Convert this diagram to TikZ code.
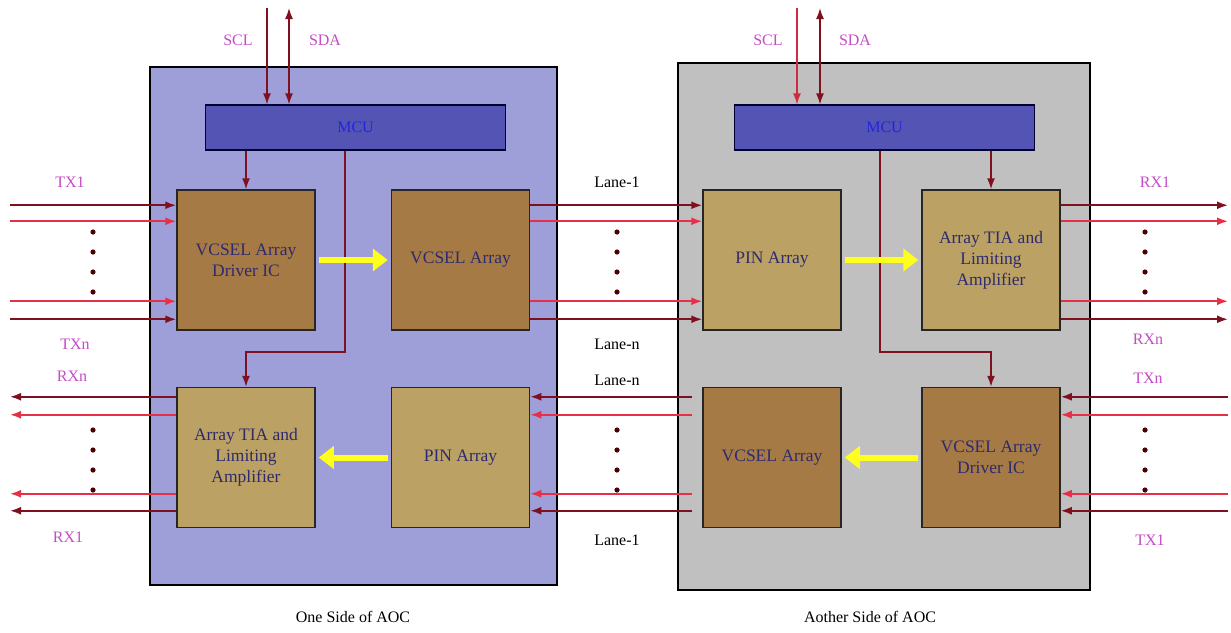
\documentclass[tikz,border=0pt]{standalone}
\usepackage{fontspec}
\setmainfont{Liberation Serif}
\usepackage{tikz}
\usetikzlibrary{positioning,arrows.meta,calc}
\usepackage{xcolor}
\definecolor{sideblue}{HTML}{9E9ED8}
\definecolor{sidegray}{HTML}{C0C0C0}
\definecolor{mcublue}{HTML}{5454B4}
\definecolor{mcutext}{HTML}{2424E0}
\definecolor{darkbrown}{HTML}{A57A45}
\definecolor{lighttan}{HTML}{BBA163}
\definecolor{blocktext}{HTML}{2E2A6E}
\definecolor{sigmaroon}{HTML}{7E1020}
\definecolor{lanered}{HTML}{E63048}
\definecolor{pinklabel}{HTML}{C44CC4}
\definecolor{optyellow}{HTML}{FFFF1E}

\begin{document}
\begin{tikzpicture}[x=1pt, y=-1pt,
    sideBox/.style={rectangle, draw=black, line width=2.5pt, inner sep=0pt},
    mcuBox/.style={rectangle, draw=black!80!blue, fill=mcublue, line width=1.2pt, minimum width=300pt, minimum height=45pt, text=mcutext, font=\fontsize{16}{18}\selectfont},
    arrBlock/.style={rectangle, draw=black!85, line width=1.5pt, minimum width=138pt, minimum height=140pt, align=center, text=blocktext, font=\fontsize{17.5}{21}\selectfont},
    sigLabel/.style={text=pinklabel, font=\fontsize{16}{18}\selectfont},
    laneLabel/.style={text=black, font=\fontsize{16}{18}\selectfont},
    sigLine/.style={line width=1.8pt, -{Latex[length=11pt,width=8pt]}},
    ctlLine/.style={draw=sigmaroon, line width=1.5pt, -{Latex[length=11pt,width=8pt]}},
    lightArrow/.style={draw=optyellow, line width=6pt, -{Triangle[length=15pt,width=22pt]}, shorten <=3pt, shorten >=3pt}
]
    \useasboundingbox (0,0) rectangle (1231,632);

    \node[sideBox, fill=sideblue, minimum width=407pt, minimum height=518pt] (sideA) at (353.5,326) {};
    \node[sideBox, fill=sidegray, minimum width=412pt, minimum height=527pt] (sideB) at (884,326.5) {};

    \node[mcuBox] (mcuA) at (355.5,127.5) {MCU};
    \node[mcuBox] (mcuB) at (884.5,127.5) {MCU};

    \node[arrBlock, fill=darkbrown] (drvA) at (246,260) {VCSEL Array\\Driver IC};
    \node[arrBlock, fill=darkbrown] (vcselA) at (460.5,260) {VCSEL Array};
    \node[arrBlock, fill=lighttan] (tiaA) at (246,457.5) {Array TIA and\\Limiting\\Amplifier};
    \node[arrBlock, fill=lighttan] (pinA) at (460.5,457.5) {PIN Array};

    \node[arrBlock, fill=lighttan] (pinB) at (772,260) {PIN Array};
    \node[arrBlock, fill=lighttan] (tiaB) at (991,260) {Array TIA and\\Limiting\\Amplifier};
    \node[arrBlock, fill=darkbrown] (vcselB) at (772,457.5) {VCSEL Array};
    \node[arrBlock, fill=darkbrown] (drvB) at (991,457.5) {VCSEL Array\\Driver IC};

    \coordinate (leftEnd) at (10,0);
    \coordinate (rightEnd) at (1228,0);

    \foreach \d/\c in {16/sigmaroon,32/lanered,112/lanered,130/sigmaroon}{
        \coordinate (p) at ([yshift=-\d pt]drvA.north west);
        \draw[sigLine, draw=\c] (p -| leftEnd) -- (p);
        \coordinate (q) at ([yshift=-\d pt]vcselA.north east);
        \draw[sigLine, draw=\c] (q) -- (q -| pinB.west);
        \coordinate (r) at ([yshift=-\d pt]tiaB.north east);
        \draw[sigLine, draw=\c] (r) -- (r -| rightEnd);
    }
    \foreach \d/\c in {10/sigmaroon,28/lanered,107/lanered,124/sigmaroon}{
        \coordinate (p) at ([yshift=-\d pt]tiaA.north west);
        \draw[sigLine, draw=\c] (p) -- (p -| leftEnd);
        \coordinate (q) at ([yshift=-\d pt]vcselB.north west);
        \draw[sigLine, draw=\c] ([xshift=-10pt]q) -- (q -| pinA.east);
        \coordinate (r) at ([yshift=-\d pt]drvB.north east);
        \draw[sigLine, draw=\c] (r -| rightEnd) -- (r);
    }

    \foreach \x in {93,617,1145}
        \foreach \y in {232,252,272,292,430,450,470,490}
            \fill[black!70!red] (\x,\y) circle (2.6pt);

    \coordinate (sclA) at (267,8);
    \coordinate (sdaA) at (289,8);
    \coordinate (sclB) at (797,8);
    \coordinate (sdaB) at (820,8);
    \draw[ctlLine] (sclA) -- (sclA |- mcuA.north);
    \draw[ctlLine, {Latex[length=11pt,width=8pt]}-{Latex[length=11pt,width=8pt]}] (sdaA) -- (sdaA |- mcuA.north);
    \draw[ctlLine, draw=lanered!80!sigmaroon] (sclB) -- (sclB |- mcuB.north);
    \draw[ctlLine, {Latex[length=11pt,width=8pt]}-{Latex[length=11pt,width=8pt]}] (sdaB) -- (sdaB |- mcuB.north);

    \draw[ctlLine] (mcuA.south -| drvA.north) -- (drvA.north);
    \coordinate (tapA) at (345,352);
    \draw[ctlLine] (mcuA.south -| tapA) -- (tapA) -| (tiaA.north);
    \draw[ctlLine] (mcuB.south -| tiaB.north) -- (tiaB.north);
    \coordinate (tapB) at (880,352);
    \draw[ctlLine] (mcuB.south -| tapB) -- (tapB) -| (drvB.north);

    \draw[lightArrow] (drvA.east) -- (vcselA.west);
    \draw[lightArrow] (pinA.west) -- (tiaA.east);
    \draw[lightArrow] (pinB.east) -- (tiaB.west);
    \draw[lightArrow] (drvB.west) -- (vcselB.east);

    \node[sigLabel] (sclAl) at (238,40) {SCL};
    \node[sigLabel] (sdaAl) at (325,40) {SDA};
    \node[sigLabel] (sclBl) at (768,40) {SCL};
    \node[sigLabel] (sdaBl) at (855,40) {SDA};

    \node[sigLabel] (txA1) at (70,182) {TX1};
    \node[sigLabel] (txAn) at (75,344) {TXn};
    \node[sigLabel] (rxAn) at (72,376) {RXn};
    \node[sigLabel] (rxA1) at (68,537) {RX1};

    \node[laneLabel] (lnTop1) at (617,182) {Lane-1};
    \node[laneLabel] (lnTopN) at (617,344) {Lane-n};
    \node[laneLabel] (lnBotN) at (617,380) {Lane-n};
    \node[laneLabel] (lnBot1) at (617,540) {Lane-1};

    \node[sigLabel] (rxB1) at (1155,182) {RX1};
    \node[sigLabel] (rxBn) at (1148,339) {RXn};
    \node[sigLabel] (txBn) at (1148,378) {TXn};
    \node[sigLabel] (txB1) at (1150,540) {TX1};

    \node[laneLabel] (capA) at (353,617) {One Side of AOC};
    \node[laneLabel] (capB) at (870,617) {Aother Side of AOC};
\end{tikzpicture}
\end{document}
